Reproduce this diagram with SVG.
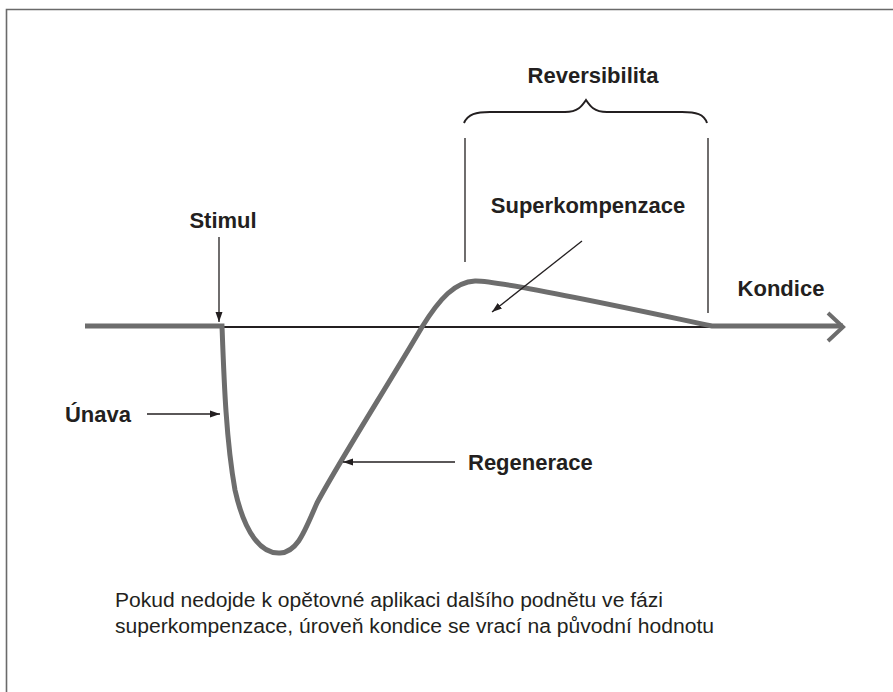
<svg xmlns="http://www.w3.org/2000/svg" width="893" height="692" viewBox="0 0 893 692">
<defs>
<marker id="ah" viewBox="0 0 10 10" refX="10" refY="5" markerWidth="10" markerHeight="10" markerUnits="userSpaceOnUse" orient="auto">
<path d="M0,1.5 L10,5 L0,8.5 Z" fill="#231f20"/>
</marker>
<style>
.lbl{font-family:"Liberation Sans",Arial,sans-serif;font-weight:bold;font-size:22px;fill:#231f20}
.note{font-family:"Liberation Sans",Arial,sans-serif;font-size:20px;fill:#231f20}
.thin{stroke:#231f20;stroke-width:1.3;fill:none}
.curve{stroke:#6d6d6d;stroke-width:5;fill:none;stroke-linejoin:miter}
</style>
</defs>
<rect width="893" height="692" fill="#fff"/>
<g id="frame">
<path d="M6.5,692 L6.5,9.5 L893,9.5" fill="none" stroke="#6a6a6a" stroke-width="1.6"/>
</g>
<g id="connectors">
<line x1="222" y1="327" x2="712" y2="327" stroke="#231f20" stroke-width="2"/>
<path class="curve" d="M85,326 L222,326 C224,380 226,440 235,490 C245,535 262,554 280,553 C298,552 305,530 317,503 C340,460 388,385 422,327 C440,298 455,282 475,281 C500,280 650,313 712,326 L843,326"/>
<path d="M828,313 L843,327 L828,341" fill="none" stroke="#6d6d6d" stroke-width="4"/>
<line class="thin" x1="219" y1="237" x2="219" y2="322" marker-end="url(#ah)"/>
<line class="thin" x1="147" y1="414" x2="220" y2="414" marker-end="url(#ah)"/>
<line class="thin" x1="455" y1="462" x2="343" y2="462" marker-end="url(#ah)"/>
<line class="thin" x1="582" y1="241" x2="492" y2="312" marker-end="url(#ah)"/>
<line class="thin" x1="465" y1="138" x2="465" y2="262"/>
<line class="thin" x1="708" y1="138" x2="708" y2="313"/>
<path d="M464,123 C468,114 476,112 490,112 L565,112 C578,112 582,106 586,100 C590,106 594,112 607,112 L682,112 C696,112 704,114 707,123" fill="none" stroke="#231f20" stroke-width="2"/>
</g>
<g id="reversibilita"><text class="lbl" x="593" y="83" text-anchor="middle">Reversibilita</text></g>
<g id="superkompenzace"><text class="lbl" x="588" y="213" text-anchor="middle">Superkompenzace</text></g>
<g id="stimul"><text class="lbl" x="223" y="228" text-anchor="middle">Stimul</text></g>
<g id="kondice"><text class="lbl" x="781" y="296" text-anchor="middle">Kondice</text></g>
<g id="unava"><text class="lbl" x="98" y="422" text-anchor="middle">Únava</text></g>
<g id="regenerace"><text class="lbl" x="468" y="470">Regenerace</text></g>
<g id="note">
<text class="note" x="115" y="607" textLength="548" lengthAdjust="spacingAndGlyphs">Pokud nedojde k opětovné aplikaci dalšího podnětu ve fázi</text>
<text class="note" x="115" y="633" textLength="599" lengthAdjust="spacingAndGlyphs">superkompenzace, úroveň kondice se vrací na původní hodnotu</text>
</g>
</svg>
